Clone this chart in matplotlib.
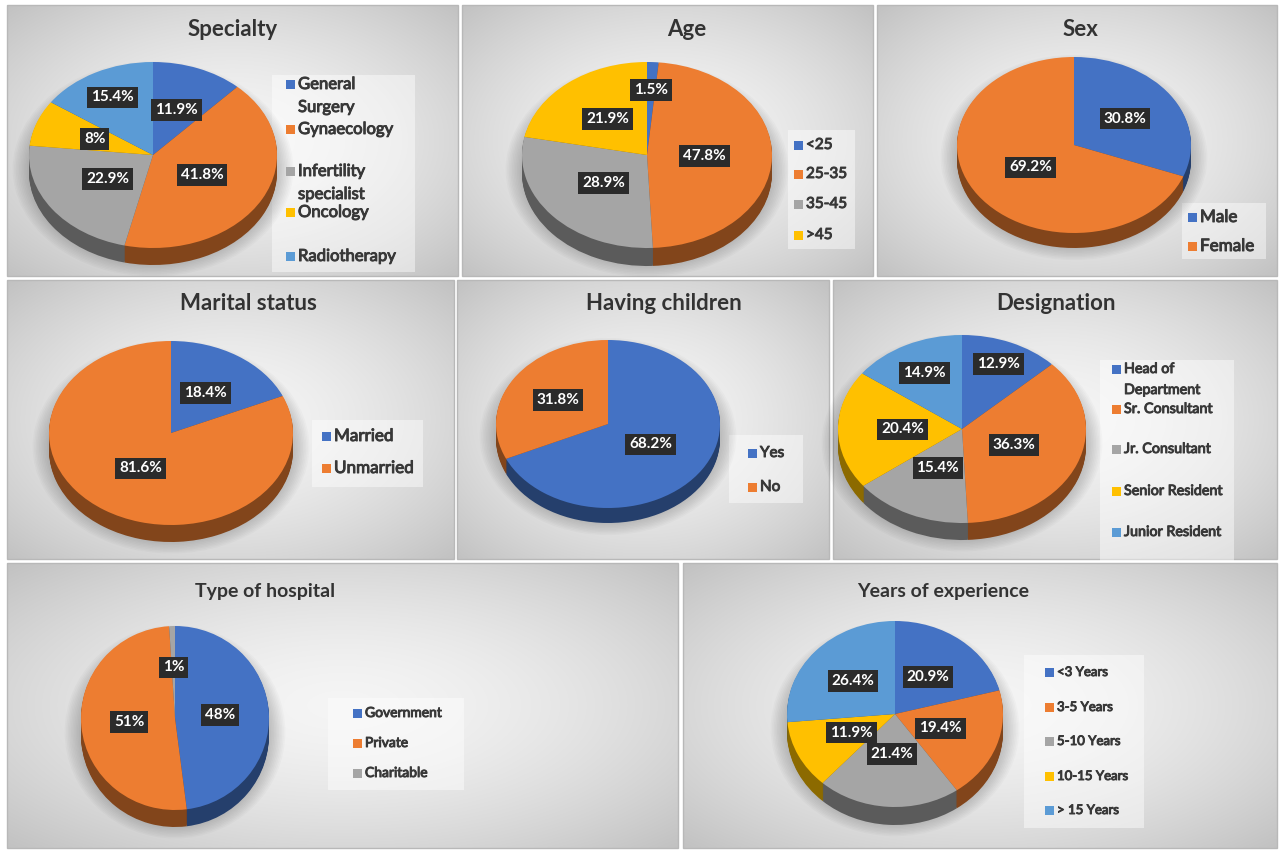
import numpy as np
import matplotlib
matplotlib.use("Agg")
import matplotlib.pyplot as plt
import matplotlib.patheffects as pe
from matplotlib.colors import to_rgb
from matplotlib.patches import Rectangle, Ellipse

plt.rcParams['font.family'] = ['Lato', 'DejaVu Sans']

W, H = 1281, 852
BLUE, ORANGE, GREY, YELLOW, LBLUE = '#4472C4', '#ED7D31', '#A5A5A5', '#FFC000', '#5B9BD5'

# ---- data ----
specialty_labels = ['General\nSurgery', 'Gynaecology', 'Infertility\nspecialist', 'Oncology', 'Radiotherapy']
specialty_values = [11.9, 41.8, 22.9, 8, 15.4]
age_labels = ['<25', '25-35', '35-45', '>45']
age_values = [1.5, 47.8, 28.9, 21.9]
sex_labels = ['Male', 'Female']
sex_values = [30.8, 69.2]
marital_labels = ['Married', 'Unmarried']
marital_values = [18.4, 81.6]
children_labels = ['Yes', 'No']
children_values = [68.2, 31.8]
designation_labels = ['Head of\nDepartment', 'Sr. Consultant', 'Jr. Consultant', 'Senior Resident', 'Junior Resident']
designation_values = [12.9, 36.3, 15.4, 20.4, 14.9]
hospital_labels = ['Government', 'Private', 'Charitable']
hospital_values = [48, 51, 1]
experience_labels = ['<3 Years', '3-5 Years', '5-10 Years', '10-15 Years', '> 15 Years']
experience_values = [20.9, 19.4, 21.4, 11.9, 26.4]

five = [BLUE, ORANGE, GREY, YELLOW, LBLUE]

# layout (pixels): box, title pos, pie (cx, cy, rx, ry, depth), label radius, legend
panels = [
    dict(title='Specialty', labels=specialty_labels, values=specialty_values, colors=five,
         box=(7, 5, 458, 276), tpos=(233, 30), tfs=16, pie=(153, 155, 124, 93, 17),
         lab_r=[.52, .45, .45, .5, .7], lbox=(272, 75, 415, 272), lx=290,
         ly=[84, 129, 171, 212, 256], gap=23, lfs=12),
    dict(title='Age', labels=age_labels, values=age_values, colors=[BLUE, ORANGE, GREY, YELLOW],
         box=(462, 5, 873, 276), tpos=(687, 30), tfs=16, pie=(647, 155, 125, 93, 18),
         lab_r=[.7, .46, .46, .5], lbox=(788, 130, 855, 249), lx=798,
         ly=[145, 174, 204, 235], gap=0, lfs=11),
    dict(title='Sex', labels=sex_labels, values=sex_values, colors=[BLUE, ORANGE],
         box=(877, 5, 1277, 276), tpos=(1080, 30), tfs=16, pie=(1074, 145, 117, 88, 15),
         lab_r=[.53, .45], lbox=(1182, 203, 1266, 259), lx=1192,
         ly=[217, 246], gap=0, lfs=12.3),
    dict(title='Marital status', labels=marital_labels, values=marital_values, colors=[BLUE, ORANGE],
         box=(7, 280, 454, 559), tpos=(248, 303), tfs=16, pie=(171, 433, 122, 92, 17),
         lab_r=[.52, .46], lbox=(312, 420, 423, 487), lx=326,
         ly=[436, 468], gap=0, lfs=12.3),
    dict(title='Having children', labels=children_labels, values=children_values, colors=[BLUE, ORANGE],
         box=(457, 280, 829, 559), tpos=(664, 303), tfs=16, pie=(608, 424, 112, 84, 15),
         lab_r=[.45, .53], lbox=(729, 435, 803, 503), lx=752,
         ly=[453, 487], gap=0, lfs=11),
    dict(title='Designation', labels=designation_labels, values=designation_values, colors=five,
         box=(833, 280, 1277, 559), tpos=(1056, 303), tfs=16, pie=(962, 429, 124, 94, 17),
         lab_r=[.75, .45, .46, .48, .67], lbox=(1100, 360, 1234, 562), lx=1116,
         ly=[369, 409, 449, 491, 532], gap=21, lfs=10.3),
    dict(title='Type of hospital', labels=hospital_labels, values=hospital_values, colors=[BLUE, ORANGE, GREY],
         box=(7, 563, 678, 848), tpos=(265, 591), tfs=14, pie=(175, 718, 94, 92, 17),
         lab_r=[.48, .49, .55], lbox=(328, 698, 464, 790), lx=357,
         ly=[713, 743, 773], gap=0, lfs=10),
    dict(title='Years of experience', labels=experience_labels, values=experience_values, colors=five,
         box=(683, 563, 1277, 848), tpos=(943, 591), tfs=14, pie=(895, 714, 108, 93, 18),
         lab_r=[.5, .45, .43, .45, .53], lbox=(1024, 655, 1144, 828), lx=1049,
         ly=[672, 707, 741, 776, 810], gap=0, lfs=9.5),
]

fig = plt.figure(figsize=(W / 100, H / 100), dpi=100)
fig.patch.set_facecolor('white')
bg = fig.add_axes([0, 0, 1, 1])
bg.set_xlim(0, W)
bg.set_ylim(H, 0)
bg.axis('off')

# panel backgrounds: soft radial gradient
gy, gx = np.mgrid[-1:1:120j, -1:1:160j]
dist = np.clip(np.sqrt(gx ** 2 + gy ** 2) / 1.414, 0, 1)
shade = 0.96 - 0.20 * dist ** 1.6
grad = np.dstack([shade, shade, shade])

thick = [pe.withStroke(linewidth=0.7, foreground='#383838')]

for p in panels:
    x0, y0, x1, y1 = p['box']
    bg.imshow(grad, extent=(x0, x1, y1, y0), interpolation='bilinear', aspect='auto', zorder=0)
    bg.add_patch(Rectangle((x0, y0), x1 - x0, y1 - y0, fill=False, ec='#b8b8b8', lw=1, zorder=1))
    bg.text(p['tpos'][0], p['tpos'][1], p['title'], ha='center', va='center',
            fontsize=p['tfs'], fontweight='bold', color='#333333', zorder=3)

    # legend
    lx0, ly0, lx1, ly1 = p['lbox']
    bg.add_patch(Rectangle((lx0, ly0), lx1 - lx0, ly1 - ly0, fc='white', alpha=0.45, ec='none', zorder=2))
    for lab, col, yy in zip(p['labels'], p['colors'], p['ly']):
        bg.add_patch(Rectangle((p['lx'] - 4.5, yy - 4.5), 9, 9, fc=col, ec='none', zorder=3))
        for j, line in enumerate(lab.split('\n')):
            bg.text(p['lx'] + 8, yy + j * p['gap'], line, ha='left', va='center',
                    fontsize=p['lfs'], color='#383838', zorder=3, path_effects=thick)

    # soft shadow under pie
    cx, cy, rx, ry, depth = p['pie']
    for i in range(10):
        bg.add_patch(Ellipse((cx, cy + depth * 0.7 + 2), 2 * (rx + 2 + i * 1.6), 2 * (ry + 2 + i * 1.4),
                             fc='black', alpha=0.018, ec='none', zorder=2))

# pies
for p in panels:
    cx, cy, rx, ry, depth = p['pie']
    ax = fig.add_axes([(cx - rx) / W, 1 - (cy + ry + depth) / H, 2 * rx / W, (2 * ry + depth) / H])
    ax.set_zorder(3)
    dark = [tuple(c * 0.55 for c in to_rgb(col)) for col in p['colors']]
    for k in range(depth, 0, -1):
        ax.pie(p['values'], colors=dark, startangle=90, counterclock=False,
               center=(0, -k / ry), wedgeprops=dict(linewidth=0, clip_on=False))
    wedges, _ = ax.pie(p['values'], colors=p['colors'], startangle=90, counterclock=False,
                       wedgeprops=dict(linewidth=0, clip_on=False))
    for w, f, v in zip(wedges, p['lab_r'], p['values']):
        mid = np.deg2rad((w.theta1 + w.theta2) / 2)
        ax.text(f * np.cos(mid), f * np.sin(mid), f'{v:g}%', ha='center', va='center',
                fontsize=11, fontweight='bold', color='white',
                bbox=dict(boxstyle='square,pad=0.25', fc='#2b2b2b', ec='none'))
    ax.set_aspect('auto')
    ax.set_xlim(-1, 1)
    ax.set_ylim(-1 - depth / ry, 1)
    ax.axis('off')

fig.savefig('out.png', dpi=100)
